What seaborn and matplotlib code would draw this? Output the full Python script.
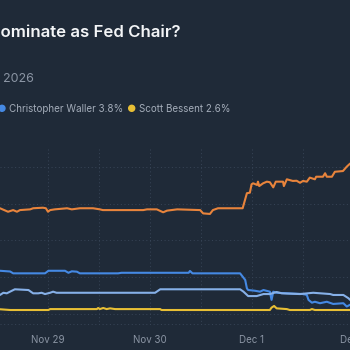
import numpy as np
import pandas as pd
import matplotlib
matplotlib.use("Agg")
import matplotlib.pyplot as plt
from matplotlib.patches import Circle
import seaborn as sns

# ---- data (hours since Nov 29 2025 00:00, probability in %) ----
hassett_h = [-11.3, -9.4, -8.2, -7.3, -6.6, -4.2, -3.5, -1.2, -0.5, 0.0, 0.5, 1.6, 4.5, 5.6, 7.5,
             10.6, 12.2, 12.9, 22.4, 23.3, 25.6, 27.1, 28.0, 30.4, 35.8, 36.5, 38.1, 38.8, 40.0,
             45.8, 46.8, 47.5, 47.9, 48.3, 49.2, 49.4, 49.7, 50.6, 51.5, 52.2, 53.0, 53.6, 55.3,
             55.5, 56.2, 57.6, 58.5, 59.3, 60.0, 60.9, 61.6, 62.8, 63.1, 64.7, 65.2, 65.6, 66.8,
             67.5, 69.4, 70.3, 71.1]
hassett_p = [57.5, 55.6, 56.5, 55.6, 56.5, 56.9, 57.5, 57.8, 57.5, 55.6, 56.5, 56.9, 57.5, 56.9, 57.5,
             57.5, 56.9, 56.5, 56.5, 56.9, 56.9, 55.3, 56.2, 56.9, 56.5, 54.7, 54.4, 56.5, 57.5,
             57.5, 65.7, 66.0, 70.6, 71.1, 70.2, 72.0, 69.6, 71.1, 72.0, 71.7, 68.9, 72.0, 72.0,
             69.6, 73.3, 72.4, 72.5, 71.4, 72.4, 72.0, 74.2, 73.3, 74.7, 74.7, 76.6, 74.7, 74.7,
             77.4, 77.8, 80.2, 81.9]

warsh_h = [-11.3, -8.9, -8.2, -0.7, 0.1, 4.0, 4.8, 5.6, 6.8, 7.5, 16.5, 17.3, 33.1, 33.4, 34.0,
           45.2, 46.4, 46.8, 47.1, 48.7, 49.9, 50.7, 52.2, 52.6, 53.0, 53.8, 56.2, 60.1, 60.9,
           61.3, 62.1, 62.8, 64.0, 65.6, 67.1, 69.5, 70.3, 71.1]
warsh_p = [23.4, 23.0, 22.0, 22.0, 23.4, 23.4, 22.3, 23.1, 22.9, 22.0, 22.0, 22.3, 22.3, 23.3, 22.0,
           22.0, 18.4, 13.8, 12.9, 12.5, 12.0, 12.9, 12.0, 7.5, 12.0, 11.4, 11.1, 10.7, 10.2,
           7.5, 6.0, 6.5, 5.7, 6.5, 5.3, 5.7, 3.9, 4.9]

waller_h = [-11.3, -10.5, -9.7, -8.5, -7.8, -4.6, -3.5, -2.3, -1.5, -0.7, 0.5, 1.2, 2.0, 25.2, 26.4,
            45.2, 46.0, 47.1, 49.1, 50.7, 52.2, 53.8, 55.0, 59.3, 62.4, 66.4, 67.1, 69.5, 70.7, 71.1]
waller_p = [10.2, 11.4, 11.1, 12.5, 13.3, 12.9, 11.1, 11.1, 11.4, 10.7, 11.4, 12.0, 11.4, 11.4, 13.3,
            13.3, 12.0, 9.6, 9.6, 10.7, 10.7, 11.8, 11.1, 10.7, 11.4, 10.7, 10.2, 10.2, 8.4, 7.5]

bessent_h = [-11.3, -8.9, 0.1, 0.5, 11.5, 11.8, 12.2, 13.0, 13.8, 14.6, 15.8, 26.4, 26.7, 52.2,
             52.6, 53.2, 53.8, 56.2, 56.9, 61.6, 62.1, 62.8, 71.1]
bessent_p = [2.4, 2.0, 2.0, 2.5, 2.5, 3.1, 2.5, 3.1, 2.5, 2.9, 2.5, 2.5, 2.0, 2.0,
             3.3, 4.2, 2.9, 2.5, 2.0, 2.0, 2.5, 2.0, 2.0]

names = ["Kevin Hassett", "Kevin Warsh", "Christopher Waller", "Scott Bessent"]
colors = ["#e8843c", "#4589e3", "#86b0e8", "#e8bf35"]
legend_items = ["Christopher Waller 3.8%", "Scott Bessent 2.6%"]
legend_colors = ["#4589e3", "#e8bf35"]
tick_days = ["2025-11-29", "2025-11-30", "2025-12-01", "2025-12-02"]
tick_labels = ["Nov 29", "Nov 30", "Dec 1", "Dec 2"]
title = "Who will Trump nominate as Fed Chair?"
subtitle = "2026"

base = pd.Timestamp("2025-11-29 00:00")
frames = []
for n, hh, pp in zip(names, [hassett_h, warsh_h, waller_h, bessent_h],
                     [hassett_p, warsh_p, waller_p, bessent_p]):
    frames.append(pd.DataFrame({"time": base + pd.to_timedelta(hh, unit="h"),
                                "pct": pp, "name": n}))
df = pd.concat(frames, ignore_index=True)

BG = "#1f2a38"
GRID = "#364355"

sns.set_theme(style="dark", rc={"figure.facecolor": BG, "axes.facecolor": BG})
plt.rcParams["font.family"] = ["Inter", "DejaVu Sans"]

W = H = 350
fig = plt.figure(figsize=(3.5, 3.5), dpi=100)
fig.patch.set_facecolor(BG)

# axes in pixel geometry: x 0..360, y 147..325 (from top)
ax_left, ax_right, ax_top, ax_bot = 0, 360, 147, 325
ax = fig.add_axes([ax_left / W, 1 - ax_bot / H, (ax_right - ax_left) / W, (ax_bot - ax_top) / H])
ax.set_facecolor(BG)

sns.lineplot(data=df, x="time", y="pct", hue="name", palette=dict(zip(names, colors)),
             hue_order=names, legend=False, linewidth=1.5, ax=ax, sort=False,
             estimator=None)

x0 = base + pd.to_timedelta(-48 / 102 * 24, unit="h")
x1 = x0 + pd.to_timedelta((ax_right - ax_left) / 102 * 24, unit="h")
ax.set_xlim(x0, x1)
ymin = (313.67 - ax_bot) / 1.8333
ymax = (313.67 - ax_top) / 1.8333
ax.set_ylim(ymin, ymax)

# grid
for v in [0, 20, 40, 60, 80]:
    ax.axhline(v, color=GRID, lw=0.75, ls=(0, (1, 2.5)), zorder=0)
ax.axhline(ymin + 0.6, color=GRID, lw=0.75, ls=(0, (1, 2.5)), zorder=0)
for k in range(0, 8):
    t = base + pd.to_timedelta(-12 + 12 * k, unit="h")
    ax.axvline(t, color=GRID, lw=0.75, ls=(0, (1, 2.5)), zorder=0)

ax.set_xticks([pd.Timestamp(d) for d in tick_days])
ax.set_xticklabels(tick_labels)
ax.tick_params(axis="x", length=0, pad=7, labelsize=7, labelcolor="#8b95a4")
ax.tick_params(axis="y", left=False, right=False, labelleft=False, labelright=False)
ax.set_xlabel("")
ax.set_ylabel("")
ax.grid(False)
for s in ax.spines.values():
    s.set_visible(False)

# title / subtitle
fig.text(181 / W, 1 - 36.5 / H, title, ha="right", va="baseline", fontsize=12.1,
         fontweight="semibold", color="#f3f5f7")
fig.text(2.5 / W, 1 - 82.5 / H, subtitle, ha="left", va="baseline", fontsize=9,
         color="#8b95a4")

# legend row
leg_x = [2, 131.7]
for (lx, lab, lc) in zip(leg_x, legend_items, legend_colors):
    fig.add_artist(Circle((lx / W, 1 - 108.3 / H), 3 / W, color=lc, transform=fig.transFigure))
    fig.text((lx + 7) / W, 1 - 112 / H, lab, ha="left", va="baseline", fontsize=7.1,
             color="#a3acb9")

fig.savefig("out.png", dpi=100, facecolor=BG)
